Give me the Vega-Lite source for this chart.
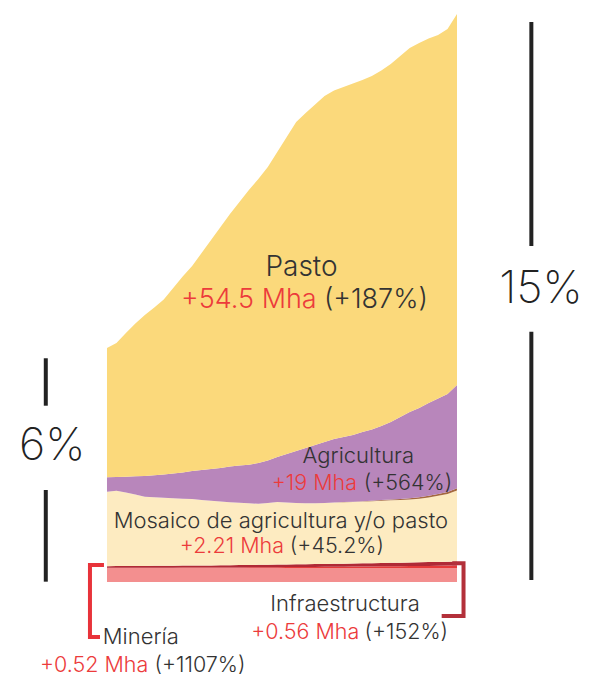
{
  "$schema": "https://vega.github.io/schema/vega-lite/v6.json",
  "width": 590,
  "height": 678,
  "padding": 0,
  "autosize": {"type": "fit", "contains": "padding"},
  "background": "white",
  "config": {"view": {"stroke": null}, "text": {"font": "Inter", "fontWeight": 300}},
  "datasets": {
    "serie": [
      {"anio":1985,"Base":3.16,"Minería":0.047,"Infraestructura":0.368,"Mosaico":16.83,"Otros":0,"Agricultura":3.25,"Pasto":29.22},
      {"anio":1986,"Base":3.16,"Minería":0.05,"Infraestructura":0.38,"Mosaico":17.02,"Otros":0,"Agricultura":3.12,"Pasto":30.28},
      {"anio":1987,"Base":3.16,"Minería":0.055,"Infraestructura":0.39,"Mosaico":16.62,"Otros":0,"Agricultura":3.57,"Pasto":32.48},
      {"anio":1988,"Base":3.16,"Minería":0.06,"Infraestructura":0.40,"Mosaico":16.15,"Otros":0,"Agricultura":4.11,"Pasto":34.53},
      {"anio":1989,"Base":3.16,"Minería":0.065,"Infraestructura":0.41,"Mosaico":15.64,"Otros":0,"Agricultura":4.68,"Pasto":36.39},
      {"anio":1990,"Base":3.16,"Minería":0.07,"Infraestructura":0.42,"Mosaico":15.51,"Otros":0,"Agricultura":4.97,"Pasto":37.90},
      {"anio":1991,"Base":3.16,"Minería":0.075,"Infraestructura":0.43,"Mosaico":15.36,"Otros":0,"Agricultura":5.27,"Pasto":39.55},
      {"anio":1992,"Base":3.16,"Minería":0.08,"Infraestructura":0.44,"Mosaico":15.26,"Otros":0,"Agricultura":5.58,"Pasto":41.92},
      {"anio":1993,"Base":3.16,"Minería":0.088,"Infraestructura":0.45,"Mosaico":15.12,"Otros":0,"Agricultura":5.92,"Pasto":44.30},
      {"anio":1994,"Base":3.16,"Minería":0.095,"Infraestructura":0.46,"Mosaico":15.04,"Otros":0,"Agricultura":6.33,"Pasto":46.33},
      {"anio":1995,"Base":3.16,"Minería":0.10,"Infraestructura":0.47,"Mosaico":14.80,"Otros":0,"Agricultura":6.78,"Pasto":49.04},
      {"anio":1996,"Base":3.16,"Minería":0.11,"Infraestructura":0.48,"Mosaico":14.60,"Otros":0,"Agricultura":7.19,"Pasto":51.75},
      {"anio":1997,"Base":3.16,"Minería":0.12,"Infraestructura":0.50,"Mosaico":14.41,"Otros":0,"Agricultura":7.57,"Pasto":54.47},
      {"anio":1998,"Base":3.16,"Minería":0.13,"Infraestructura":0.51,"Mosaico":14.23,"Otros":0,"Agricultura":8.07,"Pasto":57.07},
      {"anio":1999,"Base":3.16,"Minería":0.14,"Infraestructura":0.52,"Mosaico":14.08,"Otros":0,"Agricultura":8.43,"Pasto":59.55},
      {"anio":2000,"Base":3.16,"Minería":0.15,"Infraestructura":0.54,"Mosaico":13.93,"Otros":0,"Agricultura":8.70,"Pasto":62.10},
      {"anio":2001,"Base":3.16,"Minería":0.16,"Infraestructura":0.55,"Mosaico":13.80,"Otros":0,"Agricultura":9.22,"Pasto":64.18},
      {"anio":2002,"Base":3.16,"Minería":0.175,"Infraestructura":0.56,"Mosaico":13.96,"Otros":0,"Agricultura":9.61,"Pasto":66.33},
      {"anio":2003,"Base":3.16,"Minería":0.19,"Infraestructura":0.58,"Mosaico":14.15,"Otros":0,"Agricultura":10.17,"Pasto":68.93},
      {"anio":2004,"Base":3.16,"Minería":0.2,"Infraestructura":0.59,"Mosaico":14.01,"Otros":0,"Agricultura":10.96,"Pasto":71.64},
      {"anio":2005,"Base":3.16,"Minería":0.215,"Infraestructura":0.61,"Mosaico":13.87,"Otros":0,"Agricultura":11.75,"Pasto":74.35},
      {"anio":2006,"Base":3.16,"Minería":0.23,"Infraestructura":0.62,"Mosaico":13.77,"Otros":0,"Agricultura":12.50,"Pasto":75.71},
      {"anio":2007,"Base":3.16,"Minería":0.245,"Infraestructura":0.64,"Mosaico":13.74,"Otros":0,"Agricultura":13.18,"Pasto":76.95},
      {"anio":2008,"Base":3.16,"Minería":0.26,"Infraestructura":0.65,"Mosaico":13.78,"Otros":0.02,"Agricultura":13.77,"Pasto":78.20},
      {"anio":2009,"Base":3.16,"Minería":0.28,"Infraestructura":0.67,"Mosaico":13.83,"Otros":0.03,"Agricultura":14.34,"Pasto":78.76},
      {"anio":2010,"Base":3.16,"Minería":0.3,"Infraestructura":0.68,"Mosaico":13.87,"Otros":0.04,"Agricultura":14.72,"Pasto":79.10},
      {"anio":2011,"Base":3.16,"Minería":0.32,"Infraestructura":0.70,"Mosaico":13.90,"Otros":0.05,"Agricultura":15.09,"Pasto":79.44},
      {"anio":2012,"Base":3.16,"Minería":0.34,"Infraestructura":0.72,"Mosaico":13.97,"Otros":0.07,"Agricultura":15.64,"Pasto":79.55},
      {"anio":2013,"Base":3.16,"Minería":0.36,"Infraestructura":0.73,"Mosaico":14.01,"Otros":0.11,"Agricultura":16.09,"Pasto":79.89},
      {"anio":2014,"Base":3.16,"Minería":0.38,"Infraestructura":0.75,"Mosaico":14.08,"Otros":0.16,"Agricultura":16.72,"Pasto":80.34},
      {"anio":2015,"Base":3.16,"Minería":0.40,"Infraestructura":0.77,"Mosaico":14.13,"Otros":0.20,"Agricultura":17.49,"Pasto":80.91},
      {"anio":2016,"Base":3.16,"Minería":0.42,"Infraestructura":0.79,"Mosaico":14.16,"Otros":0.25,"Agricultura":18.51,"Pasto":81.59},
      {"anio":2017,"Base":3.16,"Minería":0.44,"Infraestructura":0.81,"Mosaico":14.23,"Otros":0.29,"Agricultura":19.48,"Pasto":82.26},
      {"anio":2018,"Base":3.16,"Minería":0.46,"Infraestructura":0.83,"Mosaico":14.35,"Otros":0.34,"Agricultura":20.18,"Pasto":82.49},
      {"anio":2019,"Base":3.16,"Minería":0.48,"Infraestructura":0.85,"Mosaico":14.60,"Otros":0.38,"Agricultura":20.97,"Pasto":82.38},
      {"anio":2020,"Base":3.16,"Minería":0.51,"Infraestructura":0.87,"Mosaico":14.94,"Otros":0.43,"Agricultura":21.56,"Pasto":82.15},
      {"anio":2021,"Base":3.16,"Minería":0.54,"Infraestructura":0.90,"Mosaico":15.28,"Otros":0.47,"Agricultura":22.13,"Pasto":82.49},
      {"anio":2022,"Base":3.16,"Minería":0.567,"Infraestructura":0.928,"Mosaico":16.02,"Otros":0.52,"Agricultura":23.32,"Pasto":83.85}
    ],
    "capas": [
      {"capa":"Base","orden":1},
      {"capa":"Minería","orden":2},
      {"capa":"Infraestructura","orden":3},
      {"capa":"Mosaico","orden":4},
      {"capa":"Otros","orden":5},
      {"capa":"Agricultura","orden":6},
      {"capa":"Pasto","orden":7}
    ],
    "etiquetas": [
      {"capa":"Pasto","parte":"nombre","texto":"Pasto","x":2005.56,"y":69.16},
      {"capa":"Pasto","parte":"cambio","texto":"+54.5 Mha","x":2007.17,"y":61.86},
      {"capa":"Pasto","parte":"relativo","texto":"(+187%)","x":2007.93,"y":61.86},
      {"capa":"Agricultura","parte":"nombre","texto":"Agricultura","x":2011.57,"y":26.83},
      {"capa":"Agricultura","parte":"cambio","texto":"+19 Mha","x":2011.43,"y":20.79},
      {"capa":"Agricultura","parte":"relativo","texto":"(+564%)","x":2012.15,"y":20.79},
      {"capa":"Mosaico","parte":"nombre","texto":"Mosaico de agricultura y/o pasto","x":2003.38,"y":12.14},
      {"capa":"Mosaico","parte":"cambio","texto":"+2.21 Mha","x":2003.71,"y":6.49},
      {"capa":"Mosaico","parte":"relativo","texto":"(+45.2%)","x":2004.33,"y":6.49},
      {"capa":"Infraestructura","parte":"nombre","texto":"Infraestructura","x":2010.16,"y":-6.49},
      {"capa":"Infraestructura","parte":"cambio","texto":"+0.56 Mha","x":2011.67,"y":-12.88},
      {"capa":"Infraestructura","parte":"relativo","texto":"(+152%)","x":2012.22,"y":-12.88},
      {"capa":"Minería","parte":"nombre","texto":"Minería","x":1988.57,"y":-14.01},
      {"capa":"Minería","parte":"cambio","texto":"+0.52 Mha","x":1989.37,"y":-20.34},
      {"capa":"Minería","parte":"relativo","texto":"(+1107%)","x":1990.02,"y":-20.34}
    ],
    "cuotas": [
      {"texto":"6%","x":1979.21,"y":27.57},
      {"texto":"15%","x":2030.88,"y":62.99}
    ],
    "barras": [
      {"x":1978.53,"y":50.56,"y2":39.84},
      {"x":1978.53,"y":20.79,"y2":0.07},
      {"x":2029.86,"y":126.56,"y2":75.94},
      {"x":2029.86,"y":56.57,"y2":0.45}
    ],
    "corchetes": [
      {"capa":"Minería","paso":1,"x":1984.68,"y":3.84},
      {"capa":"Minería","paso":2,"x":1983.20,"y":3.84},
      {"capa":"Minería","paso":3,"x":1983.20,"y":-12.43},
      {"capa":"Minería","paso":4,"x":1984.26,"y":-12.43},
      {"capa":"Infraestructura","paso":1,"x":2021.50,"y":4.23},
      {"capa":"Infraestructura","paso":2,"x":2022.69,"y":4.23},
      {"capa":"Infraestructura","paso":3,"x":2022.69,"y":-7.68},
      {"capa":"Infraestructura","paso":4,"x":2020.38,"y":-7.68}
    ]
  },
  "layer": [
    {
      "data": {"name": "serie"},
      "transform": [
        {"fold": ["Base","Minería","Infraestructura","Mosaico","Otros","Agricultura","Pasto"], "as": ["capa","valor"]},
        {"lookup": "capa", "from": {"data": {"name": "capas"}, "key": "capa", "fields": ["orden"]}}
      ],
      "mark": {"type": "area", "interpolate": "linear"},
      "encoding": {
        "x": {"field": "anio", "type": "quantitative", "scale": {"domain": [1973.69, 2036.06], "nice": false, "zero": false}, "axis": null},
        "y": {"field": "valor", "type": "quantitative", "stack": "zero", "scale": {"domain": [-21.70, 131.53], "nice": false, "zero": false}, "axis": null},
        "color": {"field": "capa", "type": "nominal", "legend": null,
          "scale": {"domain": ["Base","Minería","Infraestructura","Mosaico","Otros","Agricultura","Pasto"],
                    "range": ["#f38f8f","#e53a3a","#b02a36","#fdebc1","#a5683f","#b886bb","#fbd97b"]}},
        "order": {"field": "orden", "type": "quantitative"}
      }
    },
    {
      "data": {"name": "barras"},
      "mark": {"type": "rule", "strokeWidth": 4, "color": "#222222"},
      "encoding": {
        "x": {"field": "x", "type": "quantitative", "scale": {"domain": [1973.69, 2036.06], "nice": false, "zero": false}, "axis": null},
        "y": {"field": "y", "type": "quantitative", "scale": {"domain": [-21.70, 131.53], "nice": false, "zero": false}, "axis": null},
        "y2": {"field": "y2"}
      }
    },
    {
      "data": {"name": "corchetes"},
      "transform": [{"filter": "datum.capa === 'Minería'"}],
      "mark": {"type": "line", "strokeWidth": 4, "color": "#e8333a", "strokeJoin": "miter", "strokeCap": "butt"},
      "encoding": {
        "x": {"field": "x", "type": "quantitative", "scale": {"domain": [1973.69, 2036.06], "nice": false, "zero": false}, "axis": null},
        "y": {"field": "y", "type": "quantitative", "scale": {"domain": [-21.70, 131.53], "nice": false, "zero": false}, "axis": null},
        "order": {"field": "paso", "type": "quantitative"}
      }
    },
    {
      "data": {"name": "corchetes"},
      "transform": [{"filter": "datum.capa === 'Infraestructura'"}],
      "mark": {"type": "line", "strokeWidth": 4, "color": "#b3303a", "strokeJoin": "miter", "strokeCap": "butt"},
      "encoding": {
        "x": {"field": "x", "type": "quantitative", "scale": {"domain": [1973.69, 2036.06], "nice": false, "zero": false}, "axis": null},
        "y": {"field": "y", "type": "quantitative", "scale": {"domain": [-21.70, 131.53], "nice": false, "zero": false}, "axis": null},
        "order": {"field": "paso", "type": "quantitative"}
      }
    },
    {
      "data": {"name": "etiquetas"},
      "transform": [{"filter": "datum.parte === 'nombre' && datum.capa === 'Pasto'"}],
      "mark": {"type": "text", "align": "center", "baseline": "alphabetic", "fontSize": 28, "color": "#333333"},
      "encoding": {
        "x": {"field": "x", "type": "quantitative", "scale": {"domain": [1973.69, 2036.06], "nice": false, "zero": false}, "axis": null},
        "y": {"field": "y", "type": "quantitative", "scale": {"domain": [-21.70, 131.53], "nice": false, "zero": false}, "axis": null},
        "text": {"field": "texto"}
      }
    },
    {
      "data": {"name": "etiquetas"},
      "transform": [{"filter": "datum.parte === 'cambio' && datum.capa === 'Pasto'"}],
      "mark": {"type": "text", "align": "right", "baseline": "alphabetic", "fontSize": 27, "color": "#ec3b3b"},
      "encoding": {
        "x": {"field": "x", "type": "quantitative", "scale": {"domain": [1973.69, 2036.06], "nice": false, "zero": false}, "axis": null},
        "y": {"field": "y", "type": "quantitative", "scale": {"domain": [-21.70, 131.53], "nice": false, "zero": false}, "axis": null},
        "text": {"field": "texto"}
      }
    },
    {
      "data": {"name": "etiquetas"},
      "transform": [{"filter": "datum.parte === 'relativo' && datum.capa === 'Pasto'"}],
      "mark": {"type": "text", "align": "left", "baseline": "alphabetic", "fontSize": 27, "color": "#333333"},
      "encoding": {
        "x": {"field": "x", "type": "quantitative", "scale": {"domain": [1973.69, 2036.06], "nice": false, "zero": false}, "axis": null},
        "y": {"field": "y", "type": "quantitative", "scale": {"domain": [-21.70, 131.53], "nice": false, "zero": false}, "axis": null},
        "text": {"field": "texto"}
      }
    },
    {
      "data": {"name": "etiquetas"},
      "transform": [{"filter": "datum.parte === 'nombre' && datum.capa !== 'Pasto'"}],
      "mark": {"type": "text", "align": "center", "baseline": "alphabetic", "fontSize": 22, "color": "#333333"},
      "encoding": {
        "x": {"field": "x", "type": "quantitative", "scale": {"domain": [1973.69, 2036.06], "nice": false, "zero": false}, "axis": null},
        "y": {"field": "y", "type": "quantitative", "scale": {"domain": [-21.70, 131.53], "nice": false, "zero": false}, "axis": null},
        "text": {"field": "texto"}
      }
    },
    {
      "data": {"name": "etiquetas"},
      "transform": [{"filter": "datum.parte === 'cambio' && datum.capa !== 'Pasto'"}],
      "mark": {"type": "text", "align": "right", "baseline": "alphabetic", "fontSize": 21.5, "color": "#ec3b3b"},
      "encoding": {
        "x": {"field": "x", "type": "quantitative", "scale": {"domain": [1973.69, 2036.06], "nice": false, "zero": false}, "axis": null},
        "y": {"field": "y", "type": "quantitative", "scale": {"domain": [-21.70, 131.53], "nice": false, "zero": false}, "axis": null},
        "text": {"field": "texto"}
      }
    },
    {
      "data": {"name": "etiquetas"},
      "transform": [{"filter": "datum.parte === 'relativo' && datum.capa !== 'Pasto'"}],
      "mark": {"type": "text", "align": "left", "baseline": "alphabetic", "fontSize": 21.5, "color": "#333333"},
      "encoding": {
        "x": {"field": "x", "type": "quantitative", "scale": {"domain": [1973.69, 2036.06], "nice": false, "zero": false}, "axis": null},
        "y": {"field": "y", "type": "quantitative", "scale": {"domain": [-21.70, 131.53], "nice": false, "zero": false}, "axis": null},
        "text": {"field": "texto"}
      }
    },
    {
      "data": {"name": "cuotas"},
      "mark": {"type": "text", "align": "center", "baseline": "alphabetic", "fontSize": 45, "fontWeight": 200, "color": "#222222"},
      "encoding": {
        "x": {"field": "x", "type": "quantitative", "scale": {"domain": [1973.69, 2036.06], "nice": false, "zero": false}, "axis": null},
        "y": {"field": "y", "type": "quantitative", "scale": {"domain": [-21.70, 131.53], "nice": false, "zero": false}, "axis": null},
        "text": {"field": "texto"}
      }
    }
  ]
}
